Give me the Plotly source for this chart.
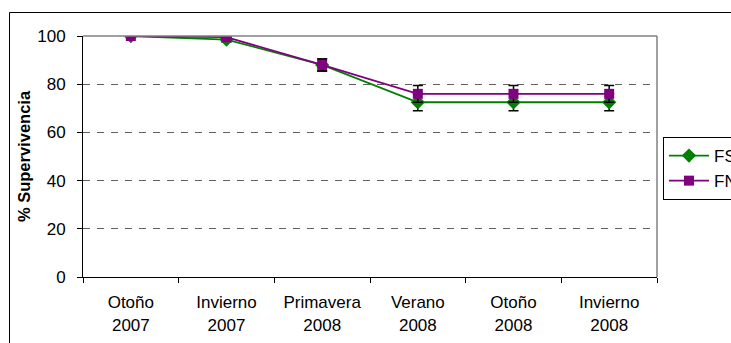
import plotly.graph_objects as go

# Seasons sampled (two-line category labels)
seasons = ["Otoño<br>2007", "Invierno<br>2007", "Primavera<br>2008",
           "Verano<br>2008", "Otoño<br>2008", "Invierno<br>2008"]

# Survival (%) and error per series
fs_values = [100, 98.5, 88, 72.5, 72.5, 72.5]
fs_errors = [0, 1, 2.5, 3.5, 3.5, 3.5]
fn_values = [100, 99.5, 88, 76, 76, 76]
fn_errors = [0, 0.5, 2.5, 3.5, 3.5, 3.5]

y_ticks = [0, 20, 40, 60, 80, 100]

W, H = 731, 343
ML, MR, MT, MB = 83, 74, 36, 66
pw, ph = W - ML - MR, H - MT - MB


def px_x(x):
    return (x - ML) / pw


def px_y(y):
    return (H - MB - y) / ph


FAMILY = "Liberation Sans, Arial, sans-serif"
font = dict(family=FAMILY, size=17, color="black")

fig = go.Figure()
fig.add_trace(go.Scatter(
    x=seasons, y=fs_values, name="FS", mode="lines+markers",
    line=dict(color="#008000", width=1.8),
    marker=dict(symbol="diamond", size=11, color="#008000"),
    error_y=dict(type="data", array=fs_errors, color="black", thickness=1.5, width=5),
))
fig.add_trace(go.Scatter(
    x=seasons, y=fn_values, name="FN", mode="lines+markers",
    line=dict(color="#800080", width=1.8),
    marker=dict(symbol="square", size=10, color="#800080"),
    error_y=dict(type="data", array=fn_errors, color="black", thickness=1.5, width=5),
))

# Plot-area frame: solid grey top and right edges
fig.add_shape(type="line", xref="paper", yref="paper", x0=0, x1=1, y0=1, y1=1,
              line=dict(color="#808080", width=1.5))
fig.add_shape(type="line", xref="paper", yref="paper", x0=1, x1=1, y0=0, y1=1,
              line=dict(color="#808080", width=1.5))
# Outer chart-area border
fig.add_shape(type="rect", xref="paper", yref="paper",
              x0=px_x(9.5), x1=px_x(760), y0=px_y(380), y1=px_y(12.5),
              line=dict(color="black", width=1), layer="below")

fig.update_layout(
    width=W, height=H,
    margin=dict(l=ML, r=MR, t=MT, b=MB, autoexpand=False),
    paper_bgcolor="white", plot_bgcolor="white",
    font=font,
    showlegend=True,
    legend=dict(x=px_x(663), y=px_y(137), xanchor="left", yanchor="top",
                bgcolor="white", bordercolor="black", borderwidth=1,
                font=font, tracegroupgap=0, itemwidth=40),
    xaxis=dict(type="category", range=[-0.5, 5.5], tickson="boundaries",
               ticks="outside", ticklen=5, tickcolor="black", tickwidth=1,
               ticklabelstandoff=10,
               showline=True, linecolor="black", linewidth=1,
               showgrid=False, zeroline=False, tickfont=font),
    yaxis=dict(range=[0, 100], tickvals=y_ticks,
               ticks="outside", ticklen=5, tickcolor="black", tickwidth=1,
               ticklabelstandoff=8,
               showline=True, linecolor="black", linewidth=1,
               showgrid=True, gridcolor="#606060", gridwidth=1.2, griddash="7px,7px",
               zeroline=False, tickfont=font,
               title=dict(text="<b>% Supervivencia</b>", standoff=2,
                          font=dict(family=FAMILY, size=16.5, color="black"))),
)

fig.write_html("out.html")
